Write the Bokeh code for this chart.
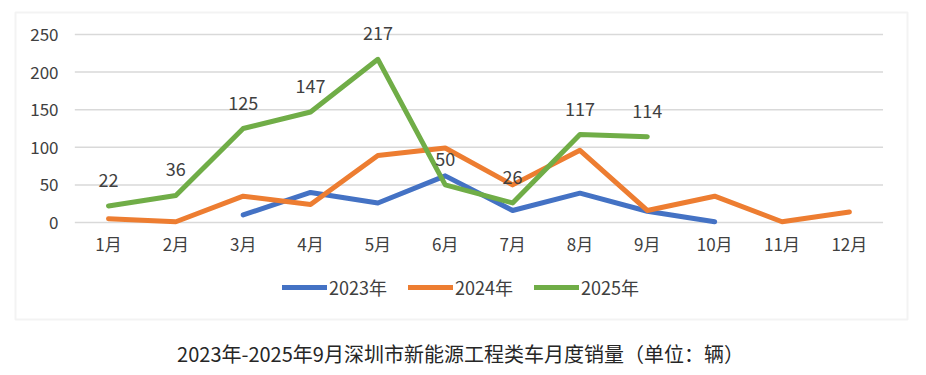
from bokeh.plotting import figure
from bokeh.models import Range1d, ColumnDataSource, Legend, LegendItem, BoxAnnotation
from bokeh.core.properties import value
from bokeh.embed import file_html
from bokeh.resources import INLINE

months = ["1月", "2月", "3月", "4月", "5月", "6月", "7月", "8月", "9月", "10月", "11月", "12月"]
months_2023 = ["3月", "4月", "5月", "6月", "7月", "8月", "9月", "10月"]
sales_2023 = [10, 40, 26, 62, 16, 39, 15, 1]
sales_2024 = [5, 1, 35, 24, 89, 99, 50, 96, 16, 35, 1, 14]
months_2025 = ["1月", "2月", "3月", "4月", "5月", "6月", "7月", "8月", "9月"]
sales_2025 = [22, 36, 125, 147, 217, 50, 26, 117, 114]
y_ticks = [0, 50, 100, 150, 200, 250]
series_names = ["2023年", "2024年", "2025年"]
caption = "2023年-2025年9月深圳市新能源工程类车月度销量（单位：辆）"

FONT = "Noto Sans CJK SC"
TXT = "#404040"
colors = ["#4472C4", "#ED7D31", "#70AD47"]

# ---- layout geometry (pixels on the 926x375 canvas) ----
W, H = 926, 375
X0_PX, X_STEP = 108.0, 67.35      # centre of first month, pitch between months
Y0_PX, Y_SCALE = 222.0, 0.752     # pixel row of value 0, pixels per unit


def xd(px):
    return (px - X0_PX) / X_STEP


def yd(px):
    return (Y0_PX - px) / Y_SCALE


idx = {m: i for i, m in enumerate(months)}

p = figure(width=W, height=H, x_range=Range1d(xd(0), xd(W)), y_range=Range1d(yd(H), yd(0)),
           output_backend="svg", toolbar_location=None,
           x_axis_location=None, y_axis_location=None,
           min_border=0, min_border_left=0, min_border_right=0, min_border_top=0, min_border_bottom=0)
p.outline_line_color = None
p.background_fill_color = "white"
p.border_fill_color = "white"
p.xgrid.visible = False
p.ygrid.visible = False

# chart frame border
p.add_layout(BoxAnnotation(left=xd(15), right=xd(907), top=yd(12), bottom=yd(319),
                           fill_alpha=0, line_color="#D6D6D6", line_width=2))

# horizontal gridlines at the y ticks, spanning the category band
p.segment(x0=[-0.5] * len(y_ticks), x1=[len(months) - 0.5] * len(y_ticks), y0=y_ticks, y1=y_ticks,
          line_color="#D9D9D9", line_width=1.5)

# y tick labels
p.text(x=[xd(58)] * len(y_ticks), y=y_ticks, text=[str(t) for t in y_ticks],
       text_align="right", text_baseline="middle", text_font=value(FONT),
       text_font_size="17px", text_color=TXT)

# x tick labels
p.text(x=list(range(len(months))), y=[0] * len(months), text=months, y_offset=21,
       text_align="center", text_baseline="middle", text_font=value(FONT),
       text_font_size="17px", text_color=TXT)

src23 = ColumnDataSource(dict(x=[idx[m] for m in months_2023], y=sales_2023))
src24 = ColumnDataSource(dict(x=[idx[m] for m in months], y=sales_2024))
src25 = ColumnDataSource(dict(x=[idx[m] for m in months_2025], y=sales_2025,
                              lbl=[str(v) for v in sales_2025]))

kw = dict(line_width=5, line_cap="round", line_join="round")
r23 = p.line("x", "y", source=src23, line_color=colors[0], **kw)
r24 = p.line("x", "y", source=src24, line_color=colors[1], **kw)
r25 = p.line("x", "y", source=src25, line_color=colors[2], **kw)

# data labels for 2025
p.text(x="x", y="y", text="lbl", source=src25, y_offset=-26, text_align="center",
       text_baseline="middle", text_font=value(FONT), text_font_size="18px", text_color=TXT)

legend = Legend(items=[LegendItem(label=series_names[0], renderers=[r23]),
                       LegendItem(label=series_names[1], renderers=[r24]),
                       LegendItem(label=series_names[2], renderers=[r25])],
                orientation="horizontal", location=(282, 75), padding=0, margin=0, spacing=21,
                glyph_width=45, glyph_height=20, label_height=20, label_standoff=2,
                label_text_font=FONT, label_text_font_size="18px", label_text_color=TXT,
                border_line_color=None, background_fill_alpha=0)
p.add_layout(legend, "center")

# caption under the chart frame
p.text(x=[xd(460)], y=[yd(353)], text=[caption], text_align="center", text_baseline="middle",
       text_font=value(FONT), text_font_size="20px", text_color="#262626")

open("out.html", "w").write(file_html(p, INLINE))
